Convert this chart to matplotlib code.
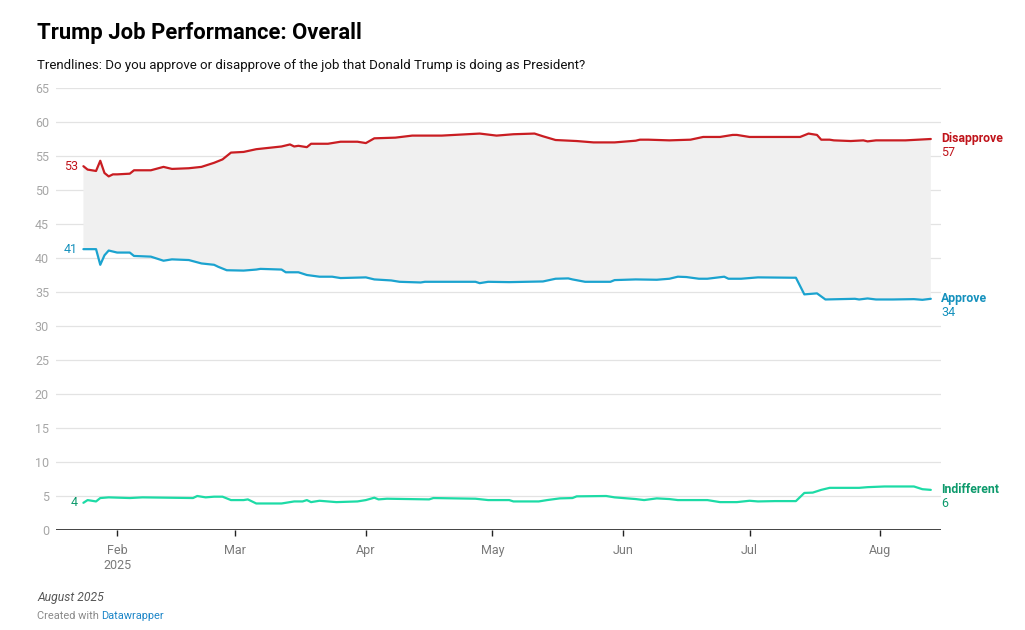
import matplotlib
matplotlib.use("Agg")
import matplotlib.pyplot as plt
import matplotlib.dates as mdates
import numpy as np
import pandas as pd

plt.rcParams['font.family'] = ['Roboto', 'DejaVu Sans']

# ---------------- data ----------------
disapprove_dates = ["2025-01-24", "2025-01-25", "2025-01-27", "2025-01-28", "2025-01-29", "2025-01-30",
                    "2025-01-31", "2025-02-01", "2025-02-04", "2025-02-05", "2025-02-09", "2025-02-12",
                    "2025-02-14", "2025-02-18", "2025-02-21", "2025-02-23", "2025-02-24", "2025-02-26",
                    "2025-02-28", "2025-03-03", "2025-03-06", "2025-03-09", "2025-03-12", "2025-03-14",
                    "2025-03-15", "2025-03-16", "2025-03-18", "2025-03-19", "2025-03-23", "2025-03-26",
                    "2025-03-30", "2025-04-01", "2025-04-03", "2025-04-08", "2025-04-12", "2025-04-19",
                    "2025-04-28", "2025-05-02", "2025-05-06", "2025-05-11", "2025-05-13", "2025-05-16",
                    "2025-05-21", "2025-05-25", "2025-05-30", "2025-06-04", "2025-06-05", "2025-06-07",
                    "2025-06-12", "2025-06-17", "2025-06-20", "2025-06-24", "2025-06-27", "2025-06-28",
                    "2025-07-01", "2025-07-08", "2025-07-13", "2025-07-15", "2025-07-17", "2025-07-18",
                    "2025-07-20", "2025-07-21", "2025-07-25", "2025-07-28", "2025-07-29", "2025-07-31",
                    "2025-08-07", "2025-08-10", "2025-08-13"]
disapprove = [53.5, 53.0, 52.8, 54.3, 52.5, 52.0,
              52.3, 52.3, 52.4, 52.9, 52.9, 53.4,
              53.1, 53.2, 53.4, 53.8, 54.0, 54.5,
              55.5, 55.6, 56.0, 56.2, 56.4, 56.7,
              56.4, 56.5, 56.3, 56.8, 56.8, 57.1,
              57.1, 56.9, 57.6, 57.7, 58.0, 58.0,
              58.3, 58.0, 58.2, 58.3, 57.9, 57.35,
              57.2, 57.0, 57.0, 57.25, 57.4, 57.4,
              57.3, 57.4, 57.8, 57.8, 58.1, 58.1,
              57.8, 57.8, 57.8, 58.3, 58.1, 57.4,
              57.4, 57.3, 57.2, 57.3, 57.15, 57.3,
              57.3, 57.4, 57.5]

approve_dates = ["2025-01-24", "2025-01-27", "2025-01-28", "2025-01-29", "2025-01-30", "2025-02-01",
                 "2025-02-04", "2025-02-05", "2025-02-09", "2025-02-12", "2025-02-14", "2025-02-18",
                 "2025-02-21", "2025-02-24", "2025-02-25", "2025-02-27", "2025-03-03", "2025-03-06",
                 "2025-03-07", "2025-03-12", "2025-03-13", "2025-03-16", "2025-03-18", "2025-03-21",
                 "2025-03-24", "2025-03-26", "2025-04-01", "2025-04-03", "2025-04-07", "2025-04-09",
                 "2025-04-14", "2025-04-15", "2025-04-20", "2025-04-27", "2025-04-28", "2025-04-30",
                 "2025-05-05", "2025-05-13", "2025-05-16", "2025-05-19", "2025-05-20", "2025-05-23",
                 "2025-05-29", "2025-05-30", "2025-06-04", "2025-06-09", "2025-06-12", "2025-06-14",
                 "2025-06-16", "2025-06-19", "2025-06-21", "2025-06-25", "2025-06-26", "2025-06-29",
                 "2025-07-03", "2025-07-11", "2025-07-12", "2025-07-14", "2025-07-17", "2025-07-19",
                 "2025-07-26", "2025-07-27", "2025-07-29", "2025-07-31", "2025-08-04", "2025-08-09",
                 "2025-08-11", "2025-08-13"]
approve = [41.3, 41.3, 39.0, 40.4, 41.1, 40.8,
           40.8, 40.3, 40.2, 39.6, 39.8, 39.7,
           39.2, 39.0, 38.7, 38.2, 38.15, 38.3,
           38.4, 38.3, 37.9, 37.9, 37.5, 37.25,
           37.25, 37.05, 37.15, 36.85, 36.7, 36.5,
           36.4, 36.5, 36.5, 36.5, 36.3, 36.5,
           36.45, 36.55, 36.95, 37.0, 36.85, 36.5,
           36.5, 36.75, 36.85, 36.8, 36.95, 37.25,
           37.2, 36.95, 36.95, 37.25, 36.95, 36.95,
           37.15, 37.1, 37.1, 34.65, 34.8, 33.9,
           34.0, 33.9, 34.05, 33.9, 33.9, 33.95,
           33.85, 34.0]

indifferent_dates = ["2025-01-24", "2025-01-25", "2025-01-27", "2025-01-28", "2025-01-30", "2025-02-04",
                     "2025-02-07", "2025-02-19", "2025-02-20", "2025-02-22", "2025-02-24", "2025-02-26",
                     "2025-02-28", "2025-03-03", "2025-03-04", "2025-03-06", "2025-03-12", "2025-03-15",
                     "2025-03-17", "2025-03-18", "2025-03-19", "2025-03-21", "2025-03-25", "2025-03-30",
                     "2025-04-01", "2025-04-03", "2025-04-04", "2025-04-06", "2025-04-16", "2025-04-17",
                     "2025-04-27", "2025-04-30", "2025-05-05", "2025-05-06", "2025-05-12", "2025-05-14",
                     "2025-05-17", "2025-05-20", "2025-05-21", "2025-05-28", "2025-05-30", "2025-06-01",
                     "2025-06-04", "2025-06-06", "2025-06-09", "2025-06-12", "2025-06-14", "2025-06-21",
                     "2025-06-24", "2025-06-28", "2025-07-01", "2025-07-03", "2025-07-07", "2025-07-12",
                     "2025-07-14", "2025-07-16", "2025-07-18", "2025-07-20", "2025-07-24", "2025-07-27",
                     "2025-07-29", "2025-08-02", "2025-08-09", "2025-08-11", "2025-08-13"]
indifferent = [4.0, 4.4, 4.2, 4.7, 4.8, 4.7,
               4.8, 4.7, 5.0, 4.8, 4.9, 4.9,
               4.4, 4.4, 4.5, 3.9, 3.9, 4.2,
               4.2, 4.4, 4.1, 4.3, 4.1, 4.2,
               4.4, 4.75, 4.5, 4.6, 4.5, 4.7,
               4.6, 4.4, 4.4, 4.2, 4.2, 4.4,
               4.65, 4.7, 4.95, 5.0, 4.8, 4.7,
               4.55, 4.4, 4.65, 4.55, 4.4, 4.4,
               4.1, 4.1, 4.3, 4.2, 4.25, 4.25,
               5.45, 5.5, 5.9, 6.2, 6.2, 6.2,
               6.3, 6.4, 6.4, 6.0, 5.9]

series_names = ["Disapprove", "Approve", "Indifferent"]
start_labels = ["53", "41", "4"]
end_labels = ["57", "34", "6"]
y_ticks = [0, 5, 10, 15, 20, 25, 30, 35, 40, 45, 50, 55, 60, 65]
x_tick_dates = ["2025-02-01", "2025-03-01", "2025-04-01", "2025-05-01", "2025-06-01", "2025-07-01", "2025-08-01"]
x_tick_labels = ["Feb\n2025", "Mar", "Apr", "May", "Jun", "Jul", "Aug"]

# ---------------- styling ----------------
line_colors = ["#c91d22", "#1ba3cf", "#1ddba6"]
text_colors = ["#c0141b", "#1591bd", "#0d9a6c"]

W, H = 1025, 630
fig = plt.figure(figsize=(W / 100, H / 100), dpi=100)
ax_left, ax_right, ax_top, ax_bottom = 56, 941, 88, 530
ax = fig.add_axes([ax_left / W, 1 - ax_bottom / H, (ax_right - ax_left) / W, (ax_bottom - ax_top) / H])

d_dis = pd.to_datetime(disapprove_dates)
d_app = pd.to_datetime(approve_dates)
d_ind = pd.to_datetime(indifferent_dates)

# shaded area between approve and disapprove
poly_x = np.concatenate([mdates.date2num(d_dis), mdates.date2num(d_app)[::-1]])
poly_y = np.concatenate([np.array(disapprove), np.array(approve)[::-1]])
ax.fill(poly_x, poly_y, color="#f0f0f0", lw=0, zorder=1)

series = [(d_dis, disapprove), (d_app, approve), (d_ind, indifferent)]
for (dd, vv), c in zip(series, line_colors):
    ax.plot(dd, vv, color=c, lw=1.6, solid_joinstyle='round', solid_capstyle='round', zorder=3)

ax.set_ylim(0, 65)
ax.set_xlim(pd.Timestamp("2025-01-17 12:00"), pd.Timestamp("2025-08-15 10:00"))

# grid
ax.set_yticks(y_ticks)
ax.set_yticklabels([str(t) for t in y_ticks])
for t in y_ticks[1:]:
    ax.axhline(t, color="#e3e3e3", lw=0.9, zorder=0)
ax.axhline(0, color="#222222", lw=1.2, zorder=4)

for s in ax.spines.values():
    s.set_visible(False)
ax.tick_params(axis='y', length=0, pad=5, labelsize=9, labelcolor="#a6a6a6")
ax.set_xticks(pd.to_datetime(x_tick_dates))
ax.set_xticklabels(x_tick_labels)
ax.tick_params(axis='x', length=4, width=1, color="#222222", pad=6, labelsize=9, labelcolor="#7a7a7a")
for lbl in ax.get_xticklabels():
    lbl.set_linespacing(1.25)

# start labels
for (dd, vv), lab, tc in zip(series, start_labels, text_colors):
    ax.annotate(lab, xy=(dd[0], vv[0]), xytext=(-4, 0), textcoords='offset points',
                ha='right', va='center', fontsize=9, color=tc)

# end labels
for (dd, vv), name, lab, tc in zip(series, series_names, end_labels, text_colors):
    ax.annotate(name, xy=(1, vv[-1]), xycoords=('axes fraction', 'data'), xytext=(0, 0),
                textcoords='offset points', ha='left', va='center', fontsize=8.8, fontweight='bold', color=tc)
    ax.annotate(lab, xy=(1, vv[-1]), xycoords=('axes fraction', 'data'), xytext=(0, -10),
                textcoords='offset points', ha='left', va='center', fontsize=9, color=tc)

# titles
fig.text(37 / W, 1 - 39 / H, "Trump Job Performance: Overall", fontsize=15.8, fontweight='bold',
         color="#000000", ha='left', va='baseline')
fig.text(37 / W, 1 - 69 / H, "Trendlines: Do you approve or disapprove of the job that Donald Trump is doing as President?",
         fontsize=9.5, color="#111111", ha='left', va='baseline')

# footer
fig.text(37 / W, 1 - 601 / H, "August 2025", fontsize=8.7, style='italic', color="#555555",
         ha='left', va='baseline')
t1 = fig.text(37 / W, 1 - 619 / H, "Created with ", fontsize=7.9, color="#8a8a8a", ha='left', va='baseline')
fig.canvas.draw()
bb = t1.get_window_extent()
fig.text(bb.x1 / W, 1 - 619 / H, "Datawrapper", fontsize=7.9, color="#1d86c8", ha='left', va='baseline')

fig.savefig("out.png", dpi=100)
